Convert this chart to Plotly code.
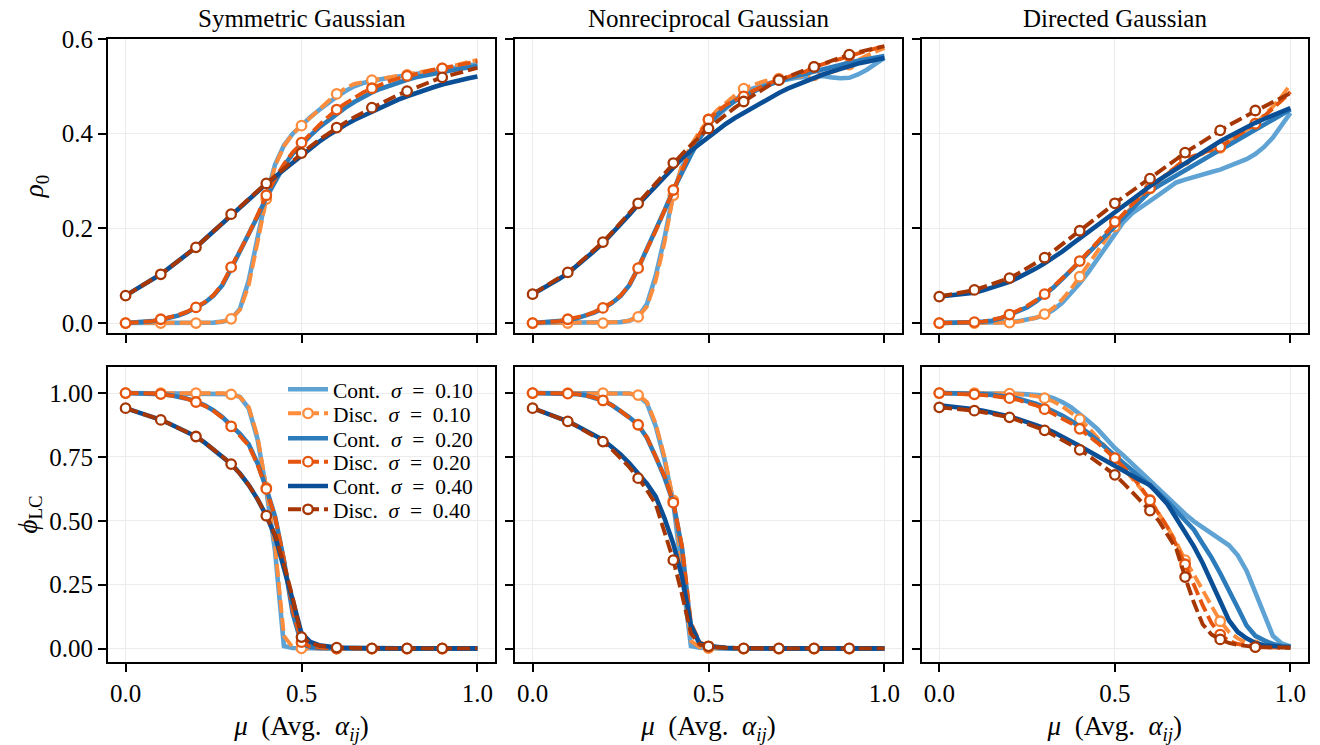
import plotly.graph_objects as go

# ---------------- data ----------------
MU = [0.0, 0.025, 0.05, 0.075, 0.1, 0.125, 0.15, 0.175, 0.2, 0.225, 0.25, 0.275,
      0.3, 0.325, 0.35, 0.375, 0.4, 0.425, 0.45, 0.475, 0.5, 0.525, 0.55, 0.575,
      0.6, 0.625, 0.65, 0.675, 0.7, 0.725, 0.75, 0.775, 0.8, 0.825, 0.85, 0.875,
      0.9, 0.925, 0.95, 0.975, 1.0]

PANEL_TITLES = ["Symmetric Gaussian", "Nonreciprocal Gaussian", "Directed Gaussian"]
SIGMA_LABELS = ["0.10", "0.20", "0.40"]

# Symmetric Gaussian, rho_0
SYM_RHO_C1 = [0,0,0,0, 0,0,0,0, 0,0,0.001,0.003, 0.008,0.030,0.090,0.180, 0.268,0.335,0.375,0.400,
              0.418,0.435,0.450,0.465, 0.478,0.490,0.500,0.507, 0.512,0.515,0.518,0.520,
              0.523,0.526,0.529,0.532, 0.535,0.538,0.541,0.544, 0.547]
SYM_RHO_D1 = [0,0,0,0, 0,0,0,0, 0,0,0.001,0.003, 0.009,0.028,0.080,0.170, 0.262,0.332,0.374,0.400,
              0.417,0.436,0.452,0.468, 0.484,0.496,0.505,0.510, 0.513,0.516,0.519,0.521,
              0.524,0.528,0.531,0.534, 0.538,0.542,0.546,0.551, 0.556]
SYM_RHO_C2 = [0,0.001,0.002,0.004, 0.007,0.011,0.016,0.023, 0.032,0.043,0.058,0.080, 0.115,0.150,0.185,0.225,
              0.265,0.300,0.332,0.358, 0.378,0.396,0.413,0.428, 0.442,0.455,0.467,0.478,
              0.487,0.495,0.502,0.508, 0.514,0.519,0.523,0.527, 0.531,0.534,0.537,0.540, 0.543]
SYM_RHO_D2 = [0,0.001,0.002,0.004, 0.008,0.012,0.017,0.024, 0.033,0.044,0.059,0.082, 0.118,0.152,0.188,0.228,
              0.270,0.305,0.336,0.361, 0.381,0.400,0.418,0.435, 0.451,0.464,0.476,0.487,
              0.496,0.504,0.511,0.517, 0.522,0.527,0.531,0.535, 0.538,0.542,0.545,0.549, 0.553]
SYM_RHO_C4 = [0.058,0.069,0.080,0.091, 0.103,0.117,0.131,0.145, 0.160,0.177,0.194,0.211, 0.229,0.246,0.262,0.278,
              0.294,0.309,0.324,0.339, 0.355,0.369,0.383,0.396, 0.408,0.419,0.429,0.438,
              0.447,0.456,0.464,0.472, 0.479,0.486,0.492,0.498, 0.504,0.509,0.513,0.517, 0.521]
SYM_RHO_D4 = [0.058,0.069,0.080,0.091, 0.103,0.117,0.131,0.145, 0.160,0.177,0.194,0.212, 0.230,0.247,0.263,0.279,
              0.295,0.311,0.327,0.343, 0.359,0.373,0.387,0.400, 0.413,0.424,0.435,0.445,
              0.455,0.464,0.473,0.482, 0.490,0.498,0.505,0.512, 0.519,0.524,0.529,0.534, 0.539]

# Symmetric Gaussian, phi_LC
SYM_PHI_C1 = [1,1,1,1, 1,1,1,1, 1,1,1,0.999, 0.996,0.985,0.940,0.820, 0.620,0.380,0.010,0.002,
              0.001,0,0,0, 0,0,0,0, 0,0,0,0, 0,0,0,0, 0,0,0,0, 0]
SYM_PHI_D1 = [1,1,1,1, 1,1,1,1, 1,1,1,0.999, 0.995,0.985,0.945,0.830, 0.630,0.400,0.050,0.005,
              0.001,0,0,0, 0,0,0,0, 0,0,0,0, 0,0,0,0, 0,0,0,0, 0]
SYM_PHI_C2 = [1.0,1.0,0.999,0.998, 0.996,0.992,0.986,0.978, 0.967,0.952,0.932,0.906, 0.873,0.840,0.800,0.725,
              0.627,0.516,0.346,0.137, 0.020,0.006,0.002,0.001, 0,0,0,0, 0,0,0,0, 0,0,0,0, 0,0,0,0, 0]
SYM_PHI_D2 = [1.0,1.0,0.999,0.998, 0.996,0.992,0.986,0.977, 0.965,0.950,0.930,0.904, 0.870,0.835,0.795,0.720,
              0.625,0.515,0.350,0.150, 0.025,0.008,0.003,0.001, 0,0,0,0, 0,0,0,0, 0,0,0,0, 0,0,0,0, 0]
SYM_PHI_C4 = [0.941,0.930,0.919,0.907, 0.895,0.880,0.864,0.847, 0.830,0.806,0.780,0.753, 0.723,0.685,0.640,0.585,
              0.520,0.440,0.320,0.190, 0.060,0.026,0.013,0.007, 0.004,0.003,0.002,0.002,
              0.001,0.001,0.001,0.001, 0.001,0.001,0.001,0.001, 0.001,0.001,0.001,0.001, 0.001]
SYM_PHI_D4 = [0.941,0.930,0.919,0.907, 0.895,0.880,0.864,0.847, 0.830,0.806,0.780,0.752, 0.722,0.684,0.640,0.585,
              0.520,0.445,0.330,0.200, 0.045,0.022,0.012,0.007, 0.004,0.003,0.002,0.002,
              0.001,0.001,0.001,0.001, 0.001,0.001,0.001,0.001, 0.001,0.001,0.001,0.001, 0.001]

# Nonreciprocal Gaussian, rho_0
NR_RHO_C1 = [0,0,0,0, 0,0,0,0, 0,0.001,0.002,0.005, 0.013,0.040,0.100,0.180, 0.275,0.330,0.366,0.395,
             0.419,0.438,0.454,0.471, 0.486,0.495,0.502,0.507, 0.511,0.515,0.518,0.520,
             0.522,0.522,0.519,0.517, 0.518,0.525,0.535,0.548, 0.560]
NR_RHO_D1 = [0,0,0,0, 0,0,0,0, 0,0.001,0.002,0.005, 0.013,0.035,0.090,0.170, 0.270,0.335,0.375,0.405,
             0.430,0.450,0.466,0.481, 0.495,0.503,0.509,0.514, 0.516,0.518,0.520,0.521,
             0.523,0.526,0.530,0.536, 0.546,0.556,0.565,0.573, 0.581]
NR_RHO_C2 = [0,0.001,0.002,0.003, 0.006,0.010,0.015,0.022, 0.031,0.042,0.057,0.080, 0.116,0.155,0.195,0.238,
             0.281,0.320,0.355,0.390, 0.419,0.440,0.457,0.469, 0.479,0.488,0.497,0.504,
             0.511,0.517,0.522,0.527, 0.532,0.537,0.541,0.546, 0.550,0.554,0.557,0.561, 0.564]
NR_RHO_D2 = [0,0.001,0.002,0.004, 0.008,0.011,0.016,0.023, 0.032,0.043,0.058,0.081, 0.116,0.155,0.195,0.238,
             0.281,0.325,0.365,0.400, 0.430,0.447,0.461,0.471, 0.479,0.490,0.499,0.507,
             0.514,0.520,0.526,0.531, 0.541,0.547,0.553,0.559, 0.565,0.570,0.575,0.580, 0.585]
NR_RHO_C4 = [0.061,0.071,0.082,0.093, 0.105,0.120,0.136,0.152, 0.169,0.188,0.208,0.229, 0.250,0.270,0.290,0.311,
             0.331,0.348,0.364,0.379, 0.394,0.408,0.421,0.433, 0.444,0.455,0.466,0.476,
             0.486,0.495,0.503,0.511, 0.518,0.525,0.531,0.537, 0.543,0.548,0.552,0.556, 0.560]
NR_RHO_D4 = [0.061,0.072,0.083,0.095, 0.107,0.122,0.138,0.154, 0.171,0.191,0.211,0.232, 0.253,0.274,0.295,0.316,
             0.338,0.357,0.376,0.394, 0.411,0.426,0.441,0.455, 0.468,0.480,0.492,0.503,
             0.513,0.521,0.528,0.535, 0.541,0.548,0.554,0.561, 0.567,0.572,0.577,0.581, 0.585]

# Nonreciprocal Gaussian, phi_LC
NR_PHI_C1 = [1,1,1,1, 1,1,1,1, 1,1,0.999,0.998, 0.990,0.960,0.870,0.740, 0.570,0.290,0.010,0.003,
             0.001,0,0,0, 0,0,0,0, 0,0,0,0, 0,0,0,0, 0,0,0,0, 0]
NR_PHI_D1 = [1,1,1,1, 1,1,1,1, 1,1,0.999,0.998, 0.992,0.965,0.880,0.750, 0.580,0.320,0.030,0.005,
             0.002,0.001,0,0, 0,0,0,0, 0,0,0,0, 0,0,0,0, 0,0,0,0, 0]
NR_PHI_C2 = [1.0,1.0,0.999,0.999, 0.998,0.996,0.991,0.983, 0.971,0.953,0.930,0.905, 0.876,0.825,0.750,0.670,
             0.571,0.390,0.080,0.020, 0.008,0.004,0.002,0.001, 0,0,0,0, 0,0,0,0, 0,0,0,0, 0,0,0,0, 0]
NR_PHI_D2 = [1.0,1.0,0.999,0.999, 0.998,0.996,0.991,0.983, 0.971,0.953,0.930,0.905, 0.876,0.827,0.755,0.675,
             0.571,0.400,0.100,0.025, 0.008,0.004,0.002,0.001, 0,0,0,0, 0,0,0,0, 0,0,0,0, 0,0,0,0, 0]
NR_PHI_C4 = [0.941,0.929,0.916,0.903, 0.889,0.872,0.855,0.836, 0.817,0.789,0.760,0.725, 0.686,0.645,0.595,0.510,
             0.410,0.280,0.090,0.020, 0.010,0.005,0.003,0.002, 0.001,0.001,0.001,0.001,
             0.001,0.001,0.001,0.001, 0.001,0.001,0.001,0.001, 0.001,0.001,0.001,0.001, 0.001]
NR_PHI_D4 = [0.941,0.928,0.915,0.902, 0.889,0.871,0.852,0.832, 0.810,0.780,0.747,0.710, 0.667,0.620,0.565,0.460,
             0.346,0.210,0.060,0.015, 0.009,0.005,0.003,0.002, 0.001,0.001,0.001,0.001,
             0.001,0.001,0.001,0.001, 0.001,0.001,0.001,0.001, 0.001,0.001,0.001,0.001, 0.001]

# Directed Gaussian, rho_0
DIR_RHO_C1 = [0,0,0,0, 0,0,0,0.001, 0.002,0.004,0.007,0.011, 0.017,0.028,0.043,0.062, 0.084,0.108,0.134,0.160,
              0.190,0.214,0.232,0.246, 0.259,0.271,0.284,0.297, 0.303,0.309,0.314,0.319,
              0.324,0.331,0.338,0.346, 0.357,0.372,0.392,0.417, 0.444]
DIR_RHO_D1 = [0,0,0,0, 0,0,0,0, 0.001,0.003,0.006,0.011, 0.019,0.032,0.050,0.072, 0.098,0.125,0.152,0.179,
              0.204,0.226,0.247,0.266, 0.284,0.300,0.316,0.331, 0.345,0.352,0.358,0.364,
              0.370,0.382,0.395,0.408, 0.421,0.438,0.457,0.479, 0.504]
DIR_RHO_C2 = [0,0,0,0, 0.002,0.003,0.005,0.010, 0.017,0.024,0.033,0.045, 0.059,0.075,0.093,0.111,
              0.130,0.148,0.167,0.186, 0.204,0.223,0.241,0.260, 0.278,0.290,0.301,0.313,
              0.324,0.335,0.346,0.356, 0.366,0.376,0.387,0.397, 0.408,0.419,0.430,0.441, 0.451]
DIR_RHO_D2 = [0,0,0,0.001, 0.002,0.003,0.006,0.011, 0.018,0.026,0.036,0.048, 0.061,0.077,0.094,0.112,
              0.131,0.151,0.172,0.193, 0.214,0.233,0.251,0.268, 0.285,0.300,0.316,0.331,
              0.345,0.353,0.360,0.366, 0.372,0.384,0.396,0.408, 0.421,0.437,0.453,0.470, 0.488]
DIR_RHO_C4 = [0.056,0.058,0.060,0.062, 0.064,0.069,0.075,0.081, 0.087,0.096,0.105,0.115, 0.126,0.138,0.151,0.165,
              0.179,0.193,0.207,0.221, 0.236,0.249,0.262,0.276, 0.289,0.302,0.314,0.326,
              0.338,0.350,0.361,0.373, 0.384,0.394,0.404,0.414, 0.423,0.431,0.439,0.447, 0.454]
DIR_RHO_D4 = [0.056,0.059,0.062,0.066, 0.070,0.076,0.082,0.088, 0.095,0.105,0.116,0.127, 0.138,0.152,0.166,0.180,
              0.195,0.209,0.224,0.238, 0.253,0.266,0.279,0.292, 0.305,0.319,0.333,0.346,
              0.360,0.372,0.384,0.396, 0.407,0.418,0.428,0.438, 0.449,0.458,0.467,0.476, 0.486]

# Directed Gaussian, phi_LC
DIR_PHI_C1 = [1,1,1,1, 1,1,1,0.999, 0.998,0.997,0.995,0.993, 0.990,0.980,0.965,0.945, 0.920,0.890,0.860,0.822,
              0.785,0.755,0.722,0.690, 0.660,0.627,0.592,0.556, 0.527,0.498,0.474,0.450,
              0.428,0.404,0.365,0.305, 0.220,0.137,0.050,0.020, 0.008]
DIR_PHI_D1 = [1,1,1,1, 1,1,1,0.999, 0.998,0.996,0.993,0.988, 0.980,0.967,0.948,0.925, 0.898,0.864,0.828,0.788,
              0.745,0.706,0.666,0.625, 0.582,0.530,0.475,0.415, 0.346,0.290,0.229,0.165,
              0.107,0.065,0.040,0.022, 0.012,0.007,0.005,0.004, 0.003]
DIR_PHI_C2 = [1,1,1,0.999, 0.998,0.996,0.993,0.990, 0.985,0.978,0.970,0.958, 0.945,0.930,0.912,0.892,
              0.869,0.843,0.815,0.784, 0.752,0.725,0.697,0.669, 0.640,0.608,0.575,0.540,
              0.505,0.465,0.410,0.357, 0.295,0.230,0.160,0.090, 0.050,0.032,0.018,0.010, 0.006]
DIR_PHI_D2 = [1.0,0.999,0.998,0.997, 0.995,0.992,0.989,0.985, 0.980,0.973,0.964,0.952, 0.937,0.920,0.902,0.882,
              0.860,0.834,0.806,0.776, 0.745,0.710,0.672,0.630, 0.580,0.530,0.475,0.405,
              0.330,0.250,0.170,0.100, 0.055,0.030,0.018,0.011, 0.007,0.005,0.004,0.004, 0.003]
DIR_PHI_C4 = [0.952,0.949,0.945,0.941, 0.937,0.931,0.924,0.916, 0.908,0.898,0.887,0.875, 0.863,0.847,0.830,0.812,
              0.793,0.773,0.753,0.733, 0.712,0.693,0.674,0.657, 0.640,0.605,0.565,0.510,
              0.455,0.400,0.335,0.265, 0.185,0.110,0.065,0.040, 0.022,0.013,0.009,0.007, 0.006]
DIR_PHI_D4 = [0.944,0.941,0.938,0.934, 0.931,0.925,0.919,0.912, 0.905,0.893,0.881,0.868, 0.854,0.836,0.817,0.798,
              0.778,0.755,0.731,0.706, 0.680,0.647,0.612,0.577, 0.540,0.500,0.445,0.390,
              0.280,0.180,0.095,0.055, 0.036,0.022,0.014,0.009, 0.006,0.005,0.005,0.004, 0.004]

# panel order: top row (rho_0) then bottom row (phi_LC); each: (C1, D1, C2, D2, C4, D4)
PANELS = [
    (SYM_RHO_C1, SYM_RHO_D1, SYM_RHO_C2, SYM_RHO_D2, SYM_RHO_C4, SYM_RHO_D4),
    (NR_RHO_C1, NR_RHO_D1, NR_RHO_C2, NR_RHO_D2, NR_RHO_C4, NR_RHO_D4),
    (DIR_RHO_C1, DIR_RHO_D1, DIR_RHO_C2, DIR_RHO_D2, DIR_RHO_C4, DIR_RHO_D4),
    (SYM_PHI_C1, SYM_PHI_D1, SYM_PHI_C2, SYM_PHI_D2, SYM_PHI_C4, SYM_PHI_D4),
    (NR_PHI_C1, NR_PHI_D1, NR_PHI_C2, NR_PHI_D2, NR_PHI_C4, NR_PHI_D4),
    (DIR_PHI_C1, DIR_PHI_D1, DIR_PHI_C2, DIR_PHI_D2, DIR_PHI_C4, DIR_PHI_D4),
]
for p in PANELS:
    for s in p:
        assert len(s) == len(MU)

# ---------------- style ----------------
FONT = "Liberation Serif"
CONT_COLORS = ["#5fa3d5", "#2c7bba", "#0a4f95"]
DISC_COLORS = ["#fd8d3c", "#e6550d", "#a63603"]
MARK_IDX = [0, 4, 8, 12, 16, 20, 24, 28, 32, 36]
CONT_W, DISC_W = 4.6, 3.9

W, H = 1320, 745
ML, MR, MT, MB = 108, 12, 39, 83
PW, PH = W - ML - MR, H - MT - MB


def px2x(px):
    return (px - ML) / PW


def py2y(py):
    return (H - MB - py) / PH


COL_DOM = [[px2x(108), px2x(495)], [px2x(515), px2x(902)], [px2x(921.7), 1.0]]
ROW_DOM = [[py2y(333), 1.0], [0.0, py2y(367)]]

fig = go.Figure()

for k, series in enumerate(PANELS):
    n = k + 1
    xa = "x" if n == 1 else f"x{n}"
    ya = "y" if n == 1 else f"y{n}"
    for j in range(3):
        cont = series[2 * j]
        disc = series[2 * j + 1]
        fig.add_trace(go.Scatter(x=MU, y=cont, mode="lines", xaxis=xa, yaxis=ya,
                                 line=dict(color=CONT_COLORS[j], width=CONT_W),
                                 showlegend=False, hoverinfo="skip"))
        fig.add_trace(go.Scatter(x=MU, y=disc, mode="lines", xaxis=xa, yaxis=ya,
                                 line=dict(color=DISC_COLORS[j], width=DISC_W, dash="13px,5px"),
                                 showlegend=False, hoverinfo="skip"))
        fig.add_trace(go.Scatter(x=[MU[i] for i in MARK_IDX], y=[disc[i] for i in MARK_IDX],
                                 mode="markers", xaxis=xa, yaxis=ya,
                                 marker=dict(symbol="circle", size=9.5, color="white",
                                             line=dict(color=DISC_COLORS[j], width=2.3)),
                                 showlegend=False, hoverinfo="skip"))

# legend entries (each in its own legend box so spacing matches)
LEG_ROWS = [389.3, 413.3, 438.3, 461.7, 486.0, 509.3]
legend_layouts = {}
for j in range(3):
    for d in range(2):
        idx = 2 * j + d
        lname = "legend" if idx == 0 else f"legend{idx + 1}"
        if d == 0:
            tr = go.Scatter(x=[None], y=[None], mode="lines", xaxis="x4", yaxis="y4",
                            line=dict(color=CONT_COLORS[j], width=CONT_W),
                            name=f"Cont.\u2002<i>σ</i>\u2002=\u2002{SIGMA_LABELS[j]}",
                            legend=lname, showlegend=True)
        else:
            tr = go.Scatter(x=[None], y=[None], mode="lines+markers", xaxis="x4", yaxis="y4",
                            line=dict(color=DISC_COLORS[j], width=DISC_W, dash="13px,5px"),
                            marker=dict(symbol="circle", size=9.5, color="white",
                                        line=dict(color=DISC_COLORS[j], width=2.3)),
                            name=f"Disc.\u2002<i>σ</i>\u2002=\u2002{SIGMA_LABELS[j]}",
                            legend=lname, showlegend=True)
        fig.add_trace(tr)
        legend_layouts[lname] = dict(
            x=px2x(283), y=py2y(LEG_ROWS[idx]), xanchor="left", yanchor="middle",
            bgcolor="rgba(0,0,0,0)", borderwidth=0, itemwidth=40,
            font=dict(family=FONT, size=21.5, color="black"))

axis_common = dict(showline=True, linecolor="black", linewidth=2, mirror=True,
                   ticks="outside", ticklen=8, tickwidth=2, tickcolor="black",
                   showgrid=True, gridcolor="#ececec", gridwidth=1, zeroline=False,
                   tickfont=dict(family=FONT, size=25, color="black"), automargin=False)

layout = dict(width=W, height=H, autosize=False,
              margin=dict(l=ML, r=MR, t=MT, b=MB),
              paper_bgcolor="white", plot_bgcolor="white",
              font=dict(family=FONT, color="black"))
layout.update(legend_layouts)

for k in range(6):
    n = k + 1
    r, c = divmod(k, 3)
    xkey = "xaxis" if n == 1 else f"xaxis{n}"
    ykey = "yaxis" if n == 1 else f"yaxis{n}"
    xa = dict(axis_common, domain=COL_DOM[c], range=[-0.05, 1.05],
              tickvals=[0.0, 0.5, 1.0], tickformat=".1f",
              anchor="y" if n == 1 else f"y{n}")
    if r == 0:
        xa["showticklabels"] = False
    else:
        xa["title"] = dict(text="<i>μ</i>\u2002(Avg.\u2002<i>α</i><sub><i>ij</i></sub>)",
                           font=dict(family=FONT, size=27, color="black"), standoff=10)
    ya = dict(axis_common, domain=ROW_DOM[r], anchor="x" if n == 1 else f"x{n}")
    if r == 0:
        ya.update(range=[-0.021, 0.6], tickvals=[0.0, 0.2, 0.4, 0.6], tickformat=".1f")
    else:
        ya.update(range=[-0.0525, 1.102], tickvals=[0.0, 0.25, 0.5, 0.75, 1.0], tickformat=".2f")
    if c != 0:
        ya["showticklabels"] = False
    else:
        if r == 0:
            ya["title"] = dict(text="<i>ρ</i><sub>0</sub>",
                               font=dict(family=FONT, size=27, color="black"), standoff=10)
        else:
            ya["title"] = dict(text="<i>ϕ</i><sub>LC</sub>",
                               font=dict(family=FONT, size=27, color="black"), standoff=4)
    layout[xkey] = xa
    layout[ykey] = ya

annotations = []
for c, t in enumerate(PANEL_TITLES):
    annotations.append(dict(text=t, x=sum(COL_DOM[c]) / 2, y=1.0, xref="paper", yref="paper",
                            xanchor="center", yanchor="bottom", yshift=5, showarrow=False,
                            font=dict(family=FONT, size=25, color="black")))
layout["annotations"] = annotations

fig.update_layout(**layout)
fig.write_html("out.html")
